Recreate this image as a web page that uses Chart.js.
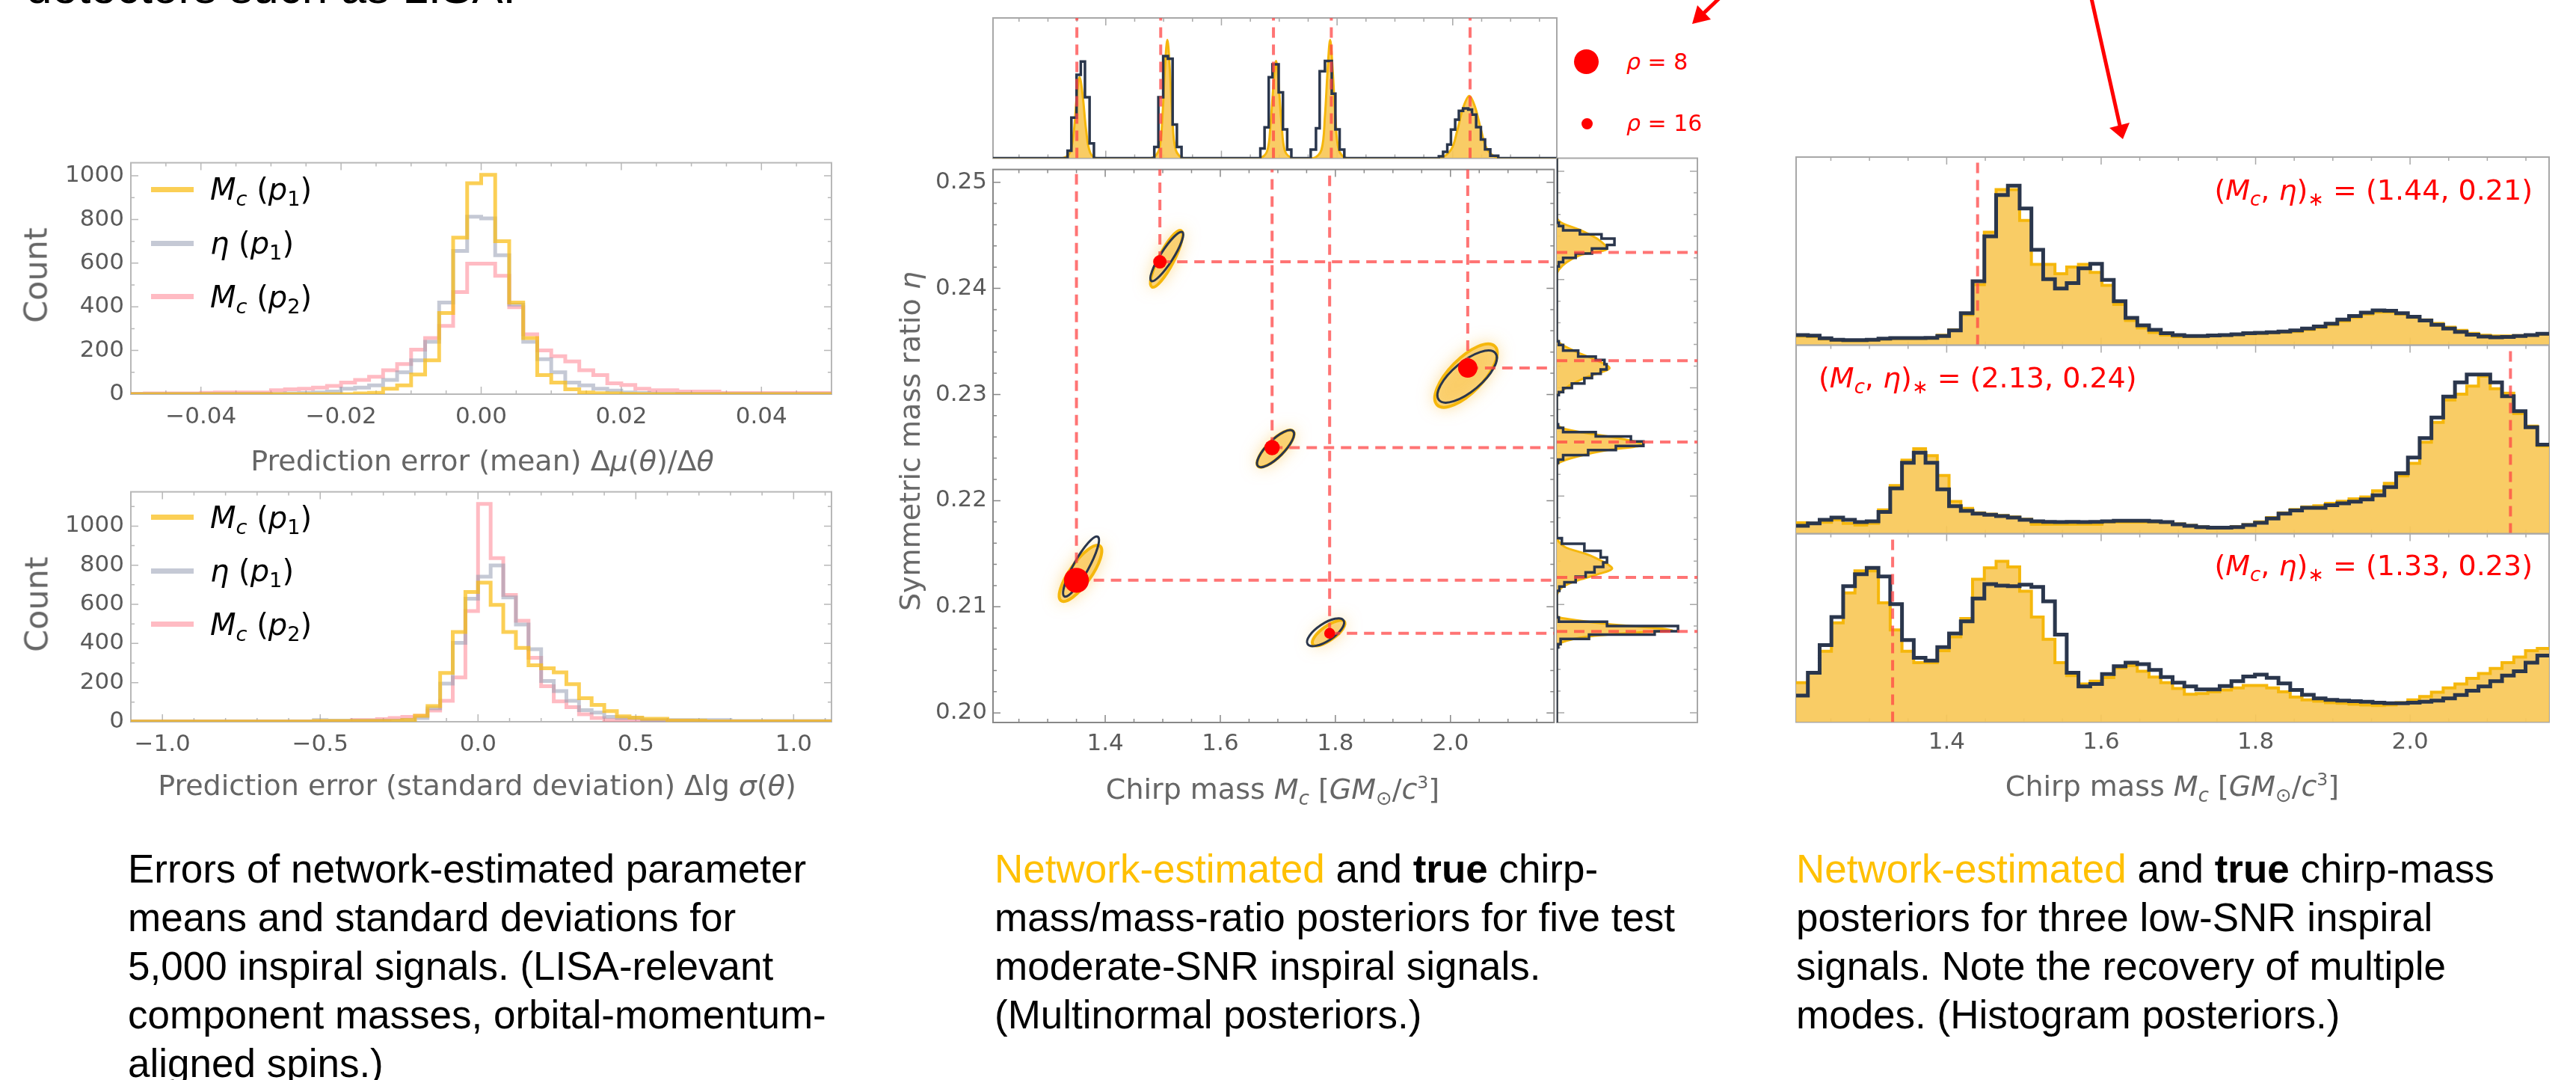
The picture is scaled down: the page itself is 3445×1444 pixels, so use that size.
<!DOCTYPE html>
<html>
<head>
<meta charset="utf-8">
<title>Network-estimated posteriors</title>
<script src="https://cdn.jsdelivr.net/npm/chart.js@4.4.1/dist/chart.umd.min.js"></script>
<style>
  html, body { margin: 0; padding: 0; }
  body { width: 3445px; height: 1444px; position: relative; overflow: hidden; background: #fff; font-family: 'DejaVu Sans', sans-serif; }
  canvas { position: absolute; }
  .t { position: absolute; white-space: nowrap; line-height: 1; }
  .ctr { transform: translate(-50%, -50%); }
  .mid { transform: translateY(-50%); }
  .rot { transform: translate(-50%, -50%) rotate(-90deg); }
  .ax { font-size: 32px; color: #666; }
  .sb { font-size: 68%; position: relative; top: 0.3em; }
  .sp { font-size: 62%; position: relative; top: -0.6em; }
  .red { color: #ff0000; }
  .lg { font-size: 40px; color: #000; }
  .sw { position: absolute; width: 57px; height: 7px; }
  .dot { position: absolute; border-radius: 50%; background: #ff0000; }
  .cap { position: absolute; font-family: 'Liberation Sans', Arial, sans-serif; font-size: 53px; line-height: 65px; color: #000; white-space: nowrap; }
  .net { color: #ffc000; }
</style>
</head>
<body>

<div class="t" style="left:35px;top:-48px;font-family:'Liberation Sans',Arial,sans-serif;font-size:62px;color:#000">detectors such as LISA.</div>

<canvas id="errMean" width="1140" height="400" style="left:0;top:190px"></canvas>
<canvas id="errSd" width="1140" height="400" style="left:0;top:630px"></canvas>
<canvas id="mcTop" width="774" height="207" style="left:1318px;top:14px"></canvas>
<canvas id="joint" width="945" height="840" style="left:1150px;top:200px"></canvas>
<canvas id="etaSide" width="208" height="775" style="left:2072px;top:201px"></canvas>
<canvas id="lowA" width="1030" height="272" style="left:2390px;top:200px"></canvas>
<canvas id="lowB" width="1030" height="272" style="left:2390px;top:451px"></canvas>
<canvas id="lowC" width="1030" height="340" style="left:2390px;top:703px"></canvas>

<!-- left column labels -->
<div class="t ax rot" style="left:48px;top:368px;font-size:43px">Count</div>
<div class="t ax rot" style="left:49px;top:808px;font-size:43px">Count</div>
<div class="t ax ctr" style="left:645px;top:616px;font-size:38px">Prediction error (mean) Δ<i>μ</i>(<i>θ</i>)/Δ<i>θ</i></div>
<div class="t ax ctr" style="left:638px;top:1050px;font-size:38px">Prediction error (standard deviation) Δlg <i>σ</i>(<i>θ</i>)</div>

<div class="sw" style="left:202px;top:250px;background:rgba(250,188,20,0.72)"></div>
<div class="sw" style="left:202px;top:322px;background:rgba(150,156,178,0.55)"></div>
<div class="sw" style="left:202px;top:393px;background:rgba(255,120,135,0.5)"></div>
<div class="t lg mid" style="left:281px;top:253px"><i>M</i><span class="sb"><i>c</i></span> (<i>p</i><span class="sb">1</span>)</div>
<div class="t lg mid" style="left:281px;top:325px"><i>η</i> (<i>p</i><span class="sb">1</span>)</div>
<div class="t lg mid" style="left:281px;top:397px"><i>M</i><span class="sb"><i>c</i></span> (<i>p</i><span class="sb">2</span>)</div>

<div class="sw" style="left:202px;top:688px;background:rgba(250,188,20,0.72)"></div>
<div class="sw" style="left:202px;top:760px;background:rgba(150,156,178,0.55)"></div>
<div class="sw" style="left:202px;top:831px;background:rgba(255,120,135,0.5)"></div>
<div class="t lg mid" style="left:281px;top:692px"><i>M</i><span class="sb"><i>c</i></span> (<i>p</i><span class="sb">1</span>)</div>
<div class="t lg mid" style="left:281px;top:763px"><i>η</i> (<i>p</i><span class="sb">1</span>)</div>
<div class="t lg mid" style="left:281px;top:835px"><i>M</i><span class="sb"><i>c</i></span> (<i>p</i><span class="sb">2</span>)</div>

<!-- middle column labels -->
<div class="t ax rot" style="left:1217px;top:590px;font-size:38px">Symmetric mass ratio <i>η</i></div>
<div class="t ax ctr" style="left:1702px;top:1055px;font-size:38px">Chirp mass <i>M</i><span class="sb"><i>c</i></span> [<i>GM</i><span class="sb">⊙</span>/<i>c</i><span class="sp">3</span>]</div>
<div class="dot" style="left:2105px;top:66px;width:33px;height:33px"></div>
<div class="dot" style="left:2115px;top:158px;width:15px;height:15px"></div>
<div class="t red mid" style="left:2175px;top:83px;font-size:30px"><i>ρ</i> = 8</div>
<div class="t red mid" style="left:2175px;top:165px;font-size:30px"><i>ρ</i> = 16</div>

<!-- right column labels -->
<div class="t ax ctr" style="left:2905px;top:1051px;font-size:38px">Chirp mass <i>M</i><span class="sb"><i>c</i></span> [<i>GM</i><span class="sb">⊙</span>/<i>c</i><span class="sp">3</span>]</div>
<div class="t red mid" style="right:58px;top:254px;font-size:38px">(<i>M</i><span class="sb"><i>c</i></span>, <i>η</i>)<span class="sb">∗</span> = (1.44, 0.21)</div>
<div class="t red mid" style="left:2432px;top:505px;font-size:38px">(<i>M</i><span class="sb"><i>c</i></span>, <i>η</i>)<span class="sb">∗</span> = (2.13, 0.24)</div>
<div class="t red mid" style="right:58px;top:756px;font-size:38px">(<i>M</i><span class="sb"><i>c</i></span>, <i>η</i>)<span class="sb">∗</span> = (1.33, 0.23)</div>

<svg width="3445" height="1444" style="position:absolute;left:0;top:0;pointer-events:none">
  <line x1="2300" y1="-3" x2="2278" y2="18" stroke="#ff0000" stroke-width="5"/>
  <polygon points="2263,32 2288,26 2270,7" fill="#ff0000"/>
  <line x1="2797" y1="-2" x2="2835" y2="168" stroke="#ff0000" stroke-width="5"/>
  <polygon points="2839,186 2848,164 2821,171" fill="#ff0000"/>
</svg>

<!-- captions -->
<div class="cap" style="left:171px;top:1129px">Errors of network-estimated parameter<br>means and standard deviations for<br>5,000 inspiral signals. (LISA-relevant<br>component masses, orbital-momentum-<br>aligned spins.)</div>
<div class="cap" style="left:1330px;top:1129px"><span class="net">Network-estimated</span> and <b>true</b> chirp-<br>mass/mass-ratio posteriors for five test<br>moderate-SNR inspiral signals.<br>(Multinormal posteriors.)</div>
<div class="cap" style="left:2402px;top:1129px"><span class="net">Network-estimated</span> and <b>true</b> chirp-mass<br>posteriors for three low-SNR inspiral<br>signals. Note the recovery of multiple<br>modes. (Histogram posteriors.)</div>

<script>
// ---- left column: prediction error histograms (counts per bin) ----
const errMeanStart = -0.05;
const errMeanWidth = 0.002;
const errMeanMcP1 = [0,0,0,0,0,0,0,0,0,0, 0,0,0,0,0,0,3,6,25,40, 90,155,372,717,966,1005,701,420,257,87, 53,22,8,4,3,1,0,0,0,0, 0,0,0,0,0,0,0,0,0,0];
const errMeanEtaP1 = [1,1,1,1,1,1,1,1,1,1, 1,3,5,8,12,25,30,40,65,100, 155,240,420,656,813,805,636,410,240,160, 100,53,40,25,16,8,5,2,2,2, 1,1,1,1,1,1,1,1,1,1];
const errMeanMcP2 = [2,3,3,3,3,6,8,8,8,8, 18,22,25,30,38,53,65,80,110,138, 204,257,313,468,598,598,542,398,274,200, 174,150,110,87,50,42,25,18,18,12, 12,12,5,5,5,5,5,5,5,5];

const errSdStart = -1.12;
const errSdWidth = 0.04;
const errSdMcP1 = [1,1,1,1,1,1,1,1,1,1, 1,1,1,1,1,4,4,4,4,4, 4,4,9,31,80,249,459,663,711,597, 459,377,289,273,252,192,120,86,54,28, 21,15,15,6,6,6,2,2,2,2, 2,2,2,2,2,2];
const errSdEtaP1 = [2,2,2,2,2,2,2,2,2,2, 2,2,2,2,2,9,6,6,6,6, 6,6,10,19,69,195,403,629,742,799, 635,497,371,208,157,107,59,47,25,19, 19,9,9,9,9,9,9,9,4,4, 4,4,4,4,4,4];
const errSdMcP2 = [2,2,2,2,2,2,2,2,2,2, 2,2,2,2,2,2,2,2,9,9, 13,19,25,31,57,107,226,566,1113,836, 648,516,327,182,104,75,38,19,9,9, 6,6,6,6,6,2,2,2,2,2, 2,2,2,2,2,2];

const errMeanTicks = [-0.04, -0.02, 0, 0.02, 0.04];
const errSdTicks = [-1, -0.5, 0, 0.5, 1];
const countTicks = [0, 200, 400, 600, 800, 1000];

// ---- middle column: five moderate-SNR signals ----
const mcRange = [1.205, 2.18];
const etaRange = [0.1991, 0.2512];
const mcTicks = [1.4, 1.6, 1.8, 2.0];
const etaTicks = [0.20, 0.21, 0.22, 0.23, 0.24, 0.25];

const trueMc = [1.35, 1.495, 1.69, 1.79, 2.03];
const trueEta = [0.2125, 0.2425, 0.225, 0.2075, 0.2325];
const trueSnr = [8, 13.4, 12, 16, 9.9];

// network-estimated (multinormal) ellipses: centre, end of major semi-axis, minor/major ratio
const estMc = [1.357, 1.5065, 1.696, 1.7882, 2.027];
const estEta = [0.21315, 0.24279, 0.2249, 0.20753, 0.23178];
const estTipMc = [1.3907, 1.5318, 1.7265, 1.8157, 2.077];
const estTipEta = [0.21573, 0.24545, 0.22655, 0.2086, 0.23455];
const estAxisRatio = [0.32, 0.24, 0.34, 0.36, 0.41];
// true posterior contours
const postMc = [1.358, 1.507, 1.696, 1.783, 2.029];
const postEta = [0.21379, 0.243, 0.2249, 0.2076, 0.23169];
const postTipMc = [1.387, 1.534, 1.7265, 1.8142, 2.078];
const postTipEta = [0.2166, 0.2453, 0.22655, 0.20872, 0.2339];
const postAxisRatio = [0.22, 0.22, 0.34, 0.4, 0.4];

// top marginal (chirp mass): true histogram and network density
const mcMargEdges = [1.205, 1.334, 1.3405, 1.3495, 1.3568, 1.364, 1.372, 1.3795, 1.4839, 1.491, 1.4993, 1.5075, 1.5156, 1.523, 1.531, 1.6673, 1.6746, 1.6818, 1.6882, 1.699, 1.7064, 1.7137, 1.7209, 1.7544, 1.7635, 1.7699, 1.779, 1.7908, 1.7971, 1.8044, 1.8125, 1.976, 1.9833, 1.9906, 1.9969, 2.0042, 2.0106, 2.0179, 2.0269, 2.0333, 2.0405, 2.0487, 2.0559, 2.065, 2.0787, 2.18];
const mcMargNavy = [0, 5.3, 29, 59.5, 69, 43.5, 10.6, 0, 8, 43.5, 72.8, 71, 24, 8, 0, 7, 22, 57.7, 67, 47, 20.5, 6.2, 0, 6.2, 21.3, 62, 69.3, 46, 20.5, 6.2, 0, 1.3, 4.5, 9.8, 20.4, 27.5, 33.8, 35.5, 34.7, 31.1, 22.2, 13.3, 6.3, 1.8, 0];
const mcFitMc = [1.205, 1.325, 1.338, 1.345, 1.350, 1.3547, 1.360, 1.366, 1.373, 1.385, 1.478, 1.492, 1.498, 1.502, 1.5065, 1.511, 1.515, 1.521, 1.535, 1.665, 1.679, 1.685, 1.690, 1.6945, 1.699, 1.704, 1.710, 1.724, 1.759, 1.773, 1.779, 1.7835, 1.788, 1.7925, 1.797, 1.803, 1.817, 1.975, 1.997, 2.008, 2.018, 2.0287, 2.039, 2.049, 2.060, 2.082, 2.18];
const mcFitDens = [0, 0, 4, 20, 45, 57.7, 45, 20, 4, 0, 0, 6, 30, 62, 84.4, 62, 30, 6, 0, 0, 5, 25, 52, 69.3, 52, 25, 5, 0, 0, 6, 30, 62, 84.4, 62, 30, 6, 0, 0, 6, 20, 36, 44.4, 36, 20, 6, 0, 0];

// right marginal (symmetric mass ratio)
const etaMargEdges = [0.1991, 0.20603, 0.20634, 0.20682, 0.20721, 0.20753, 0.208, 0.2084, 0.2088, 0.21126, 0.21165, 0.21204, 0.21256, 0.21296, 0.21347, 0.21387, 0.21434, 0.21494, 0.21561, 0.21613, 0.22306, 0.22338, 0.22378, 0.22425, 0.22464, 0.22504, 0.22551, 0.22591, 0.22631, 0.22663, 0.22932, 0.2296, 0.22999, 0.23039, 0.2309, 0.2313, 0.2317, 0.23217, 0.23257, 0.23289, 0.23344, 0.23396, 0.2343, 0.2412, 0.2416, 0.242, 0.2424, 0.24287, 0.24319, 0.24378, 0.24418, 0.24453, 0.24493, 0.24524, 0.2512];
const etaMargNavy = [0, 0.9, 2.7, 22.9, 69.6, 86.2, 35.7, 1.4, 0, 1.8, 5.4, 13.4, 20.5, 26.8, 33, 35.7, 31.2, 19.6, 3.6, 0, 0.9, 4.5, 22.3, 42, 61.6, 52.7, 27.7, 4.5, 0.9, 0, 1.4, 4.5, 10.7, 19.6, 25, 31.2, 35.4, 33.9, 27.7, 15.2, 4.5, 1.4, 0, 1.4, 4.5, 13.4, 25, 35.7, 41, 31.8, 16.4, 4.5, 1.4, 0];
const etaFitEta = [0.1991, 0.2058, 0.20603, 0.2065, 0.20702, 0.20741, 0.20757, 0.20777, 0.2082, 0.2088, 0.2092, 0.2106, 0.21098, 0.21157, 0.21216, 0.21276, 0.21335, 0.21454, 0.21533, 0.2162, 0.2227, 0.2231, 0.22365, 0.22425, 0.2247, 0.2251, 0.2256, 0.2262, 0.2267, 0.2290, 0.2294, 0.2302, 0.2310, 0.2318, 0.2326, 0.2334, 0.2345, 0.2404, 0.2409, 0.2416, 0.2423, 0.2428, 0.2437, 0.2445, 0.2457, 0.2512];
const etaFitDens = [0, 0, 0.4, 3.6, 21.4, 57, 82, 75, 35.7, 1.4, 0, 0, 0.4, 3.6, 13.4, 28.6, 39.3, 23.2, 5.4, 0, 0, 1.8, 14.3, 35.7, 60.7, 53.6, 32, 5.4, 0, 0, 0.9, 8.9, 21.4, 37.5, 27.3, 12.5, 0, 0, 1.4, 7.1, 17.8, 35.7, 29.5, 17.8, 0, 0];

// ---- right column: three low-SNR chirp-mass histograms (64 bins) ----
const lowSnrStart = 1.205;
const lowSnrWidth = 0.975 / 64;
const lowSnrTrueMc = [1.44, 2.13, 1.33];
const lowSnrNavyA = [5.3,5.0,3.6,2.8,2.6,2.6,2.8,3.4,3.7,3.7, 3.7,3.8,4.8,7.8,17,34,57.8,79.8,84.8,72.7, 50.7,35.1,30.1,33,40.8,43.2,34.7,23.3,14.5,10.5, 8.1,6.3,5.3,4.8,4.8,5.1,5.3,5.7,6.3,6.5, 6.8,7.2,7.8,8.8,9.9,11.4,13.6,15.5,17.3,18.5, 18.3,17,15.1,13.1,10.8,8.8,7,5.5,4.5,4.1, 4.3,4.8,5.3,6];
const lowSnrYellowA = [4.8,4.5,3.2,2.5,2.3,2.3,2.6,3.2,3.5,3.5, 3.5,3.6,5.2,8.1,16.2,32.2,60,82.7,82.7,66.3, 42.9,42.9,37.9,41.5,42.9,38.6,31.8,21.6,13.1,9.1, 6.7,5.3,4.5,4.5,4.8,5,5.2,5.6,6,6.2, 6.5,6.8,7.2,8.2,9.3,10.8,12.8,14.8,16.5,17.6, 17.6,16.5,14.8,13.4,11.5,9.5,7.8,6.2,5.2,4.8, 4.8,5,5.3,5.8];
const lowSnrNavyB = [4.2,5.5,7.3,8.5,7.3,6.1,6.5,11.5,24,37.6, 42.9,37.6,23.5,14.6,12.1,10.6,10,9.3,8.5,7.3, 6.5,6.2,6.1,6.2,6.1,6.2,6.5,6.8,6.8,6.8, 6.5,6.1,5,4.2,3.5,3.2,3.2,3.5,4.6,5.8, 8,10.6,12.3,13.7,13.7,15.1,16.1,17,18.1,20.3, 24.7,32,40.4,50.7,61.6,72.7,80.2,84.4,84.4,80.2, 72.9,65,56.4,47.2];
const lowSnrYellowB = [5.8,5.5,6,7.3,5.5,4.6,5.5,12.6,25.5,39, 45,41.4,30.8,17.1,13.4,11,10.3,9.6,8.8,7.6, 5,5,5,5,5,5,6.1,6.1,6.1,6.1, 6.1,6,5.2,4.4,3.6,3.3,3.3,3.7,4.8,6.2, 8.5,11,12.8,14.2,14.8,16.1,17.2,18.4,19.4,22.7, 26.7,30.6,37.3,48.5,59,70.9,74,78.2,83.5,76.9, 74.5,63.7,57,46.5];
const lowSnrNavyC = [14.1,26.2,40.9,55.8,72.1,78.5,81.8,77.3,62.6,43.6, 34.1,32.6,39.8,47,53.5,65.6,73.2,72.4,72.1,72.9, 71.7,64.1,46.4,26.2,18.9,20.2,25.5,29.7,31.5,30.8, 27.7,23.9,20.9,18.9,17.4,17.4,19.1,21.7,24.2,25.2, 23.5,20.5,17.1,14.5,12.6,11.8,11.4,11.1,10.8,10.3, 10,10,10.3,10.8,11.4,12.6,14.4,16.7,18.9,21.7, 24.7,27,31.5,35.3];
const lowSnrYellowC = [20.9,26.2,37.6,52.7,68.6,80.3,80.3,63.3,48.9,37.6, 31.5,31.5,37.9,45.2,55,75.8,81.8,85.3,82.3,69.4, 55.8,43.9,31.5,24.7,20.2,21.7,23.6,28.8,30,27, 23.9,20.9,17.9,14.8,15.2,16.1,17.1,18.2,19.4,19.4, 18.2,16.1,13.3,11.8,11.1,10.3,10,9.5,9.1,8.8, 9.1,10.3,11.8,13.6,15.9,18.2,20.2,23.2,25.8,28.5, 31.5,34.5,37.9,39.1];

// ---- styles ----
const TICK_FONT = { family: "'DejaVu Sans', sans-serif", size: 31 };
const TICK_COLOR = '#5a5a5a';
const C_MC1 = 'rgba(250,188,20,0.72)';
const C_ETA1 = 'rgba(150,156,178,0.55)';
const C_MC2 = 'rgba(255,120,135,0.5)';
const YELLOW_FILL = 'rgba(249,200,88,0.92)';
const YELLOW_EDGE = '#f5b70c';
const NAVY = '#2a364c';
const DASH_RED = 'rgba(255,70,70,0.75)';

Chart.defaults.font.family = "'DejaVu Sans', sans-serif";

const el = id => document.getElementById(id);
const signed = d => v => (v < 0 ? '\u2212' : '') + Math.abs(v).toFixed(d);
const dotRadius = snr => 16.7 * Math.pow(8 / snr, 1.2);

function binEdges(start, width, n) {
  return Array.from({ length: n + 1 }, (_, i) => start + i * width);
}
function binSteps(edges, values) {
  const pts = [];
  values.forEach((v, i) => { pts.push({ x: edges[i], y: v }, { x: edges[i + 1], y: v }); });
  return pts;
}
function binStepsH(edges, values) {
  return binSteps(edges, values).map(p => ({ x: p.y, y: p.x }));
}
function lineSet(data, color, width, order, extra) {
  return Object.assign({ data, borderColor: color, borderWidth: width, pointRadius: 0, fill: false, tension: 0, order }, extra || {});
}
function dashSet(data) {
  return lineSet(data, DASH_RED, 4, 0, { borderDash: [14, 9] });
}
function baseOptions(pad) {
  return {
    responsive: false,
    animation: false,
    devicePixelRatio: 1,
    layout: { padding: pad },
    plugins: { legend: { display: false }, tooltip: { enabled: false } }
  };
}
function shownAxis(range, ticks, fmt, size, padding, horizontal) {
  return {
    type: 'linear', min: range[0], max: range[1],
    grid: { display: false, drawTicks: false },
    border: { display: false },
    ticks: { padding, color: TICK_COLOR, font: TICK_FONT, callback: fmt, autoSkip: false, maxRotation: 0 },
    afterBuildTicks: s => { s.ticks = ticks.map(v => ({ value: v })); },
    afterFit: s => { if (horizontal) s.height = size; else s.width = size; }
  };
}
function hiddenAxis(range) {
  return { type: 'linear', min: range[0], max: range[1], display: false };
}

// frame with inward major/minor ticks, Mathematica style
const frames = {
  errMean: { color: '#b8b8b8', xMajor: errMeanTicks, xMinor: 0.005, yMajor: countTicks, yMinor: 100, x: ['top', 'bottom'], y: ['left', 'right'] },
  errSd: { color: '#b8b8b8', xMajor: errSdTicks, xMinor: 0.1, yMajor: countTicks, yMinor: 100, x: ['top', 'bottom'], y: ['left', 'right'] },
  mcTop: { color: '#a8a8a8', xMajor: mcTicks, xMinor: 0.05, x: ['top', 'bottom'], y: [] },
  joint: { color: '#888', xMajor: mcTicks, xMinor: 0.05, yMajor: etaTicks, yMinor: 0.002, x: ['top', 'bottom'], y: ['left', 'right'] },
  etaSide: { color: '#a8a8a8', yMajor: etaTicks, yMinor: 0.002, x: [], y: ['left', 'right'] },
  lowA: { color: '#a8a8a8', xMajor: mcTicks, xMinor: 0.05, x: ['top', 'bottom'], y: [] },
  lowB: { color: '#a8a8a8', xMajor: mcTicks, xMinor: 0.05, x: ['top', 'bottom'], y: [] },
  lowC: { color: '#a8a8a8', xMajor: mcTicks, xMinor: 0.05, x: ['top', 'bottom'], y: [] }
};

function tickMarks(scale, major, step) {
  const out = (major || []).map(v => [v, 10]);
  if (step) {
    for (let k = Math.ceil(scale.min / step - 1e-6); k * step <= scale.max + 1e-9; k++) {
      const v = k * step;
      if (!out.some(m => Math.abs(m[0] - v) < step / 10)) out.push([v, 5]);
    }
  }
  return out;
}

Chart.register({
  id: 'frame',
  beforeDatasetsDraw(chart) {
    const f = frames[chart.canvas.id];
    if (!f) return;
    const { ctx, chartArea: a, scales: { x, y } } = chart;
    ctx.save();
    ctx.strokeStyle = f.color;
    ctx.lineWidth = 2;
    ctx.strokeRect(a.left, a.top, a.right - a.left, a.bottom - a.top);
    ctx.lineWidth = 1.5;
    ctx.beginPath();
    tickMarks(x, f.xMajor, f.xMinor).forEach(([v, len]) => {
      const p = x.getPixelForValue(v);
      if (!f.x.length || p < a.left + 1 || p > a.right - 1) return;
      if (f.x.includes('bottom')) { ctx.moveTo(p, a.bottom); ctx.lineTo(p, a.bottom - len); }
      if (f.x.includes('top')) { ctx.moveTo(p, a.top); ctx.lineTo(p, a.top + len); }
    });
    if (f.y.length) tickMarks(y, f.yMajor, f.yMinor).forEach(([v, len]) => {
      const p = y.getPixelForValue(v);
      if (p < a.top + 1 || p > a.bottom - 1) return;
      if (f.y.includes('left')) { ctx.moveTo(a.left, p); ctx.lineTo(a.left + len, p); }
      if (f.y.includes('right')) { ctx.moveTo(a.right, p); ctx.lineTo(a.right - len, p); }
    });
    ctx.stroke();
    ctx.restore();
  }
});

// multinormal posteriors (yellow glow) and true contours (navy) in the joint panel
const ellipsePlugin = {
  id: 'posteriors',
  beforeDatasetsDraw(chart) {
    const { ctx, chartArea: a, scales: { x, y } } = chart;
    const shape = (mc, eta, tipMc, tipEta, ratio) => {
      const cx = x.getPixelForValue(mc), cy = y.getPixelForValue(eta);
      const tx = x.getPixelForValue(tipMc), ty = y.getPixelForValue(tipEta);
      const r = Math.hypot(tx - cx, ty - cy);
      ctx.beginPath();
      ctx.ellipse(cx, cy, r, r * ratio, Math.atan2(ty - cy, tx - cx), 0, 2 * Math.PI);
    };
    ctx.save();
    ctx.beginPath();
    ctx.rect(a.left, a.top, a.right - a.left, a.bottom - a.top);
    ctx.clip();
    estMc.forEach((mc, i) => {
      ctx.save();
      ctx.shadowColor = 'rgba(250,190,60,0.75)';
      ctx.shadowBlur = 22;
      shape(mc, estEta[i], estTipMc[i], estTipEta[i], estAxisRatio[i]);
      ctx.fillStyle = 'rgba(250,202,95,0.8)';
      ctx.fill();
      ctx.restore();
      shape(mc, estEta[i], estTipMc[i], estTipEta[i], estAxisRatio[i]);
      ctx.lineWidth = 4;
      ctx.strokeStyle = YELLOW_EDGE;
      ctx.stroke();
    });
    postMc.forEach((mc, i) => {
      shape(mc, postEta[i], postTipMc[i], postTipEta[i], postAxisRatio[i]);
      ctx.lineWidth = 3;
      ctx.strokeStyle = NAVY;
      ctx.stroke();
    });
    ctx.restore();
  }
};

// ---- left column charts ----
const errMeanEdges = binEdges(errMeanStart, errMeanWidth, errMeanMcP1.length);
new Chart(el('errMean'), {
  type: 'line',
  data: { datasets: [
    lineSet(binSteps(errMeanEdges, errMeanMcP1), C_MC1, 5, 0),
    lineSet(binSteps(errMeanEdges, errMeanEtaP1), C_ETA1, 5, 1),
    lineSet(binSteps(errMeanEdges, errMeanMcP2), C_MC2, 5, 2)
  ] },
  options: Object.assign(baseOptions({ left: 0, top: 24, right: 28, bottom: 0 }), {
    scales: {
      x: shownAxis([-0.05, 0.05], errMeanTicks, signed(2), 63, 12, true),
      y: shownAxis([0, 1060], countTicks, v => String(v), 175, 9, false)
    }
  })
});

const errSdEdges = binEdges(errSdStart, errSdWidth, errSdMcP1.length);
new Chart(el('errSd'), {
  type: 'line',
  data: { datasets: [
    lineSet(binSteps(errSdEdges, errSdMcP1), C_MC1, 5, 0),
    lineSet(binSteps(errSdEdges, errSdEtaP1), C_ETA1, 5, 1),
    lineSet(binSteps(errSdEdges, errSdMcP2), C_MC2, 5, 2)
  ] },
  options: Object.assign(baseOptions({ left: 0, top: 24, right: 28, bottom: 0 }), {
    scales: {
      x: shownAxis([-1.1, 1.12], errSdTicks, signed(1), 65, 12, true),
      y: shownAxis([0, 1175], countTicks, v => String(v), 175, 9, false)
    }
  })
});

// ---- middle column charts ----
const jointSets = [{
  data: trueMc.map((m, i) => ({ x: m, y: trueEta[i] })),
  showLine: false,
  pointRadius: c => dotRadius(trueSnr[c.dataIndex]),
  pointBackgroundColor: '#ff0000',
  pointBorderWidth: 0,
  order: 0
}];
trueMc.forEach((m, i) => {
  jointSets.push(Object.assign(dashSet([{ x: m, y: trueEta[i] }, { x: m, y: etaRange[1] }]), { showLine: true, order: 1 }));
  jointSets.push(Object.assign(dashSet([{ x: m, y: trueEta[i] }, { x: mcRange[1], y: trueEta[i] }]), { showLine: true, order: 1 }));
});
new Chart(el('joint'), {
  type: 'scatter',
  data: { datasets: jointSets },
  options: Object.assign(baseOptions({ left: 0, top: 11.5, right: 13, bottom: 0 }), {
    scales: {
      x: shownAxis(mcRange, mcTicks, v => v.toFixed(1), 74, 10, true),
      y: shownAxis(etaRange, etaTicks, v => v.toFixed(2), 178, 8, false)
    }
  }),
  plugins: [ellipsePlugin]
});

new Chart(el('mcTop'), {
  type: 'line',
  data: { datasets: [
    ...trueMc.map(m => dashSet([{ x: m, y: 0 }, { x: m, y: 100 }])),
    lineSet(binSteps(mcMargEdges, mcMargNavy), NAVY, 3.5, 1),
    lineSet(mcFitMc.map((m, i) => ({ x: m, y: mcFitDens[i] })), YELLOW_EDGE, 3, 2,
      { fill: 'origin', backgroundColor: YELLOW_FILL, tension: 0.35 })
  ] },
  options: Object.assign(baseOptions({ left: 10, top: 10, right: 10, bottom: 9.5 }), {
    scales: { x: hiddenAxis(mcRange), y: hiddenAxis([0, 100]) }
  })
});

new Chart(el('etaSide'), {
  type: 'line',
  data: { datasets: [
    ...trueEta.map(e => dashSet([{ x: 0, y: e }, { x: 100, y: e }])),
    lineSet(binStepsH(etaMargEdges, etaMargNavy), NAVY, 3.5, 1),
    lineSet(etaFitEta.map((e, i) => ({ x: etaFitDens[i], y: e })), YELLOW_EDGE, 3, 2,
      { fill: 'origin', backgroundColor: YELLOW_FILL, tension: 0.3 })
  ] },
  options: Object.assign(baseOptions({ left: 10, top: 10.5, right: 10, bottom: 10 }), {
    indexAxis: 'y',
    scales: { x: hiddenAxis([0, 100]), y: hiddenAxis(etaRange) }
  })
});

// ---- right column charts ----
const lowSnrEdges = binEdges(lowSnrStart, lowSnrWidth, 64);
function lowSnrChart(id, navy, yellow, trueM, pad, withAxis) {
  new Chart(el(id), {
    type: 'line',
    data: { datasets: [
      dashSet([{ x: trueM, y: 0 }, { x: trueM, y: 100 }]),
      lineSet(binSteps(lowSnrEdges, navy), NAVY, 5, 1),
      lineSet(binSteps(lowSnrEdges, yellow), YELLOW_EDGE, 4, 2, { fill: 'origin', backgroundColor: YELLOW_FILL })
    ] },
    options: Object.assign(baseOptions(pad), {
      scales: {
        x: withAxis ? shownAxis(mcRange, mcTicks, v => v.toFixed(1), 77.5, 9, true) : hiddenAxis(mcRange),
        y: hiddenAxis([0, 100])
      }
    })
  });
}
lowSnrChart('lowA', lowSnrNavyA, lowSnrYellowA, lowSnrTrueMc[0], { left: 12, top: 10, right: 11, bottom: 10.6 }, false);
lowSnrChart('lowB', lowSnrNavyB, lowSnrYellowB, lowSnrTrueMc[1], { left: 12, top: 10.4, right: 11, bottom: 9.5 }, false);
lowSnrChart('lowC', lowSnrNavyC, lowSnrYellowC, lowSnrTrueMc[2], { left: 12, top: 10.5, right: 11, bottom: 0 }, true);
</script>
</body>
</html>
